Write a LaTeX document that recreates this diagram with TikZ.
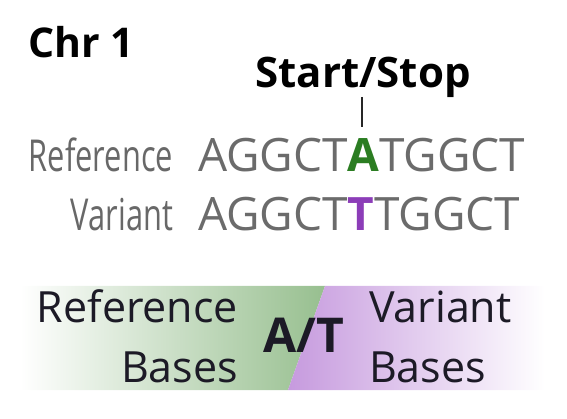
\documentclass[tikz,border=0pt]{standalone}
\usepackage{fontspec}
\setmainfont{Open Sans}
\newfontfamily\condfont[FakeStretch=0.7]{Open Sans}
\definecolor{seqgray}{HTML}{6B6B6B}
\definecolor{labgray}{HTML}{686868}
\definecolor{refgreen}{HTML}{2B7D22}
\definecolor{varpurple}{HTML}{8C3DB8}
\definecolor{bandgreen}{HTML}{97BF8F}
\definecolor{bandpurple}{HTML}{C69ADE}
\definecolor{darktext}{HTML}{1C1A26}
\tikzset{
  txt/.style={inner sep=0pt, outer sep=0pt},
  title/.style={txt, anchor=base west, font=\fontsize{41}{46}\selectfont\bfseries, text=black},
  seq/.style={txt, anchor=base west, font=\fontsize{46}{50}\selectfont, text=seqgray},
  lab/.style={txt, anchor=base east, font=\condfont\fontsize{44}{50}\selectfont, text=labgray},
  bandtxt/.style={txt, font=\fontsize{43}{48}\selectfont, text=darktext},
}
\begin{document}
\begin{tikzpicture}[x=1pt,y=-1pt]
\useasboundingbox (0,0) rectangle (567,419);
% band
\shade[left color=white, right color=bandgreen] (20,286) -- (325,286) -- (288,390) -- (20,390) -- cycle;
\shade[left color=bandpurple, right color=white] (325,286) -- (545,286) -- (545,390) -- (288,390) -- cycle;
% titles
\node[title] (chr) at (28,58) {Chr 1};
\node[title, anchor=base, font=\fontsize{42}{46}\selectfont\bfseries] (ss) at (363,88) {Start/Stop};
\coordinate (tickTop) at (362,97);
\coordinate (tickBot) at (362,127);
\draw[line width=2.6pt, black!85] (tickTop) -- (tickBot);
% sequences
\node[lab] (reflab) at (173,172) {Reference};
\node[seq] (refseq) at (198,172) {AGGCT{\bfseries\color{refgreen}A}TGGCT};
\node[lab] (varlab) at (173,231) {Variant};
\node[seq] (varseq) at (198,231) {AGGCT{\bfseries\color{varpurple}T}TGGCT};
% band text
\node[bandtxt, anchor=base east] (refb1) at (238,323) {Reference};
\node[bandtxt, anchor=base east] (refb2) at (238,382) {Bases};
\node[bandtxt, anchor=base west] (varb1) at (369,323) {Variant};
\node[bandtxt, anchor=base west] (varb2) at (369,382) {Bases};
\node[txt, anchor=base, font=\fontsize{48}{52}\selectfont\bfseries, text=darktext] (at) at (304,352) {A/T};
\end{tikzpicture}
\end{document}
